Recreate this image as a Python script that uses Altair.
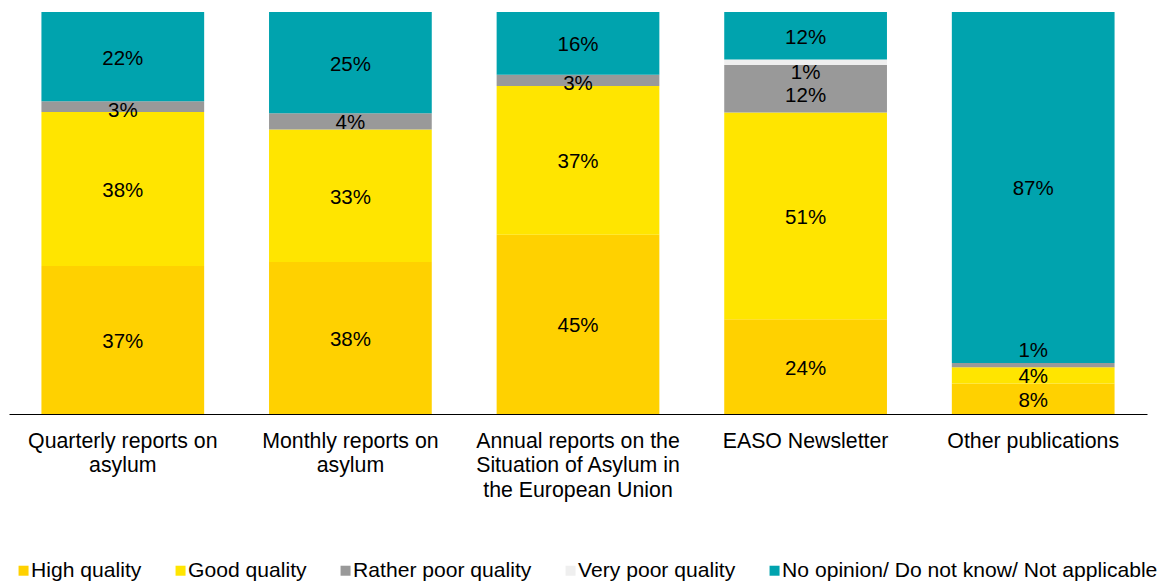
import altair as alt
import pandas as pd

categories = [
    "Quarterly reports on\nasylum",
    "Monthly reports on\nasylum",
    "Annual reports on the\nSituation of Asylum in\nthe European Union",
    "EASO Newsletter",
    "Other publications",
]
series = [
    "High quality",
    "Good quality",
    "Rather poor quality",
    "Very poor quality",
    "No opinion/ Do not know/ Not applicable",
]
colors = ["#FFD100", "#FFE500", "#999999", "#EFEFEF", "#00A3AE"]

high_quality = [36.8, 37.8, 44.6, 23.6, 7.6]
good_quality = [38.3, 33.0, 37.0, 51.4, 4.0]
rather_poor = [2.7, 4.0, 2.8, 11.8, 1.1]
very_poor = [0.0, 0.0, 0.0, 1.4, 0.0]
no_opinion = [22.2, 25.2, 15.6, 11.8, 87.3]

# label nudges (in percentage units) for labels that sit off-centre in the original
label_nudge = {
    (0, 2): -0.5,
    (2, 2): -0.3,
    (3, 2): -1.2,
    (3, 3): -2.3,
    (4, 2): 3.9,
}

values = [high_quality, good_quality, rather_poor, very_poor, no_opinion]
rows = []
for si, s in enumerate(series):
    for ci, c in enumerate(categories):
        rows.append({
            "category": c,
            "series": s,
            "order": si,
            "value": values[si][ci],
            "nudge": label_nudge.get((ci, si), 0.0),
        })
df = pd.DataFrame(rows)

FONT = "Liberation Sans"

base = alt.Chart(df).transform_stack(
    stack="value",
    groupby=["category"],
    sort=[alt.SortField("order", order="ascending")],
    as_=["y0", "y1"],
).transform_calculate(
    mid="(datum.y0 + datum.y1) / 2 + datum.nudge",
    label="format(round(datum.value), 'd') + '%'",
)

x_enc = alt.X(
    "category:N",
    sort=categories,
    title=None,
    scale=alt.Scale(paddingInner=0.285, paddingOuter=0.1425),
    axis=alt.Axis(
        labelAngle=0,
        labelExpr="split(datum.label, '\\n')",
        labelFont=FONT,
        labelFontSize=21.3,
        labelColor="#000000",
        labelLineHeight=24.5,
        labelPadding=16,
        labelBaseline="top",
        ticks=False,
        domainColor="#000000",
        domainWidth=1,
        grid=False,
        labelLimit=400,
    ),
)

bars = base.mark_bar(strokeWidth=0).encode(
    x=x_enc,
    y=alt.Y("y0:Q", scale=alt.Scale(domain=[0, 100]), axis=None),
    y2="y1:Q",
    color=alt.Color(
        "series:N",
        sort=series,
        scale=alt.Scale(domain=series, range=colors),
        legend=alt.Legend(
            title=None,
            orient="none",
            legendX=4,
            legendY=548,
            direction="horizontal",
            symbolType="square",
            symbolSize=100,
            symbolStrokeWidth=0,
            labelFont=FONT,
            labelFontSize=21.1,
            labelColor="#000000",
            labelOffset={"expr": "-3"},
            columnPadding=28,
            padding=0,
            labelLimit=500,
        ),
    ),
)

texts = base.transform_filter("datum.value >= 0.5").mark_text(
    font=FONT, fontSize=20.5, color="#000000", baseline="middle", align="center", dy=2
).encode(
    x=alt.X("category:N", sort=categories),
    y=alt.Y("mid:Q", scale=alt.Scale(domain=[0, 100])),
    text="label:N",
)

chart = alt.layer(bars, texts).properties(
    width=1138,
    height=402,
    autosize=alt.AutoSizeParams(type="none"),
    padding={"left": 1, "top": 4, "right": 11, "bottom": 168},
).configure_view(stroke=None)

chart.save("out.html", embed_options={"renderer": "svg", "actions": False})
